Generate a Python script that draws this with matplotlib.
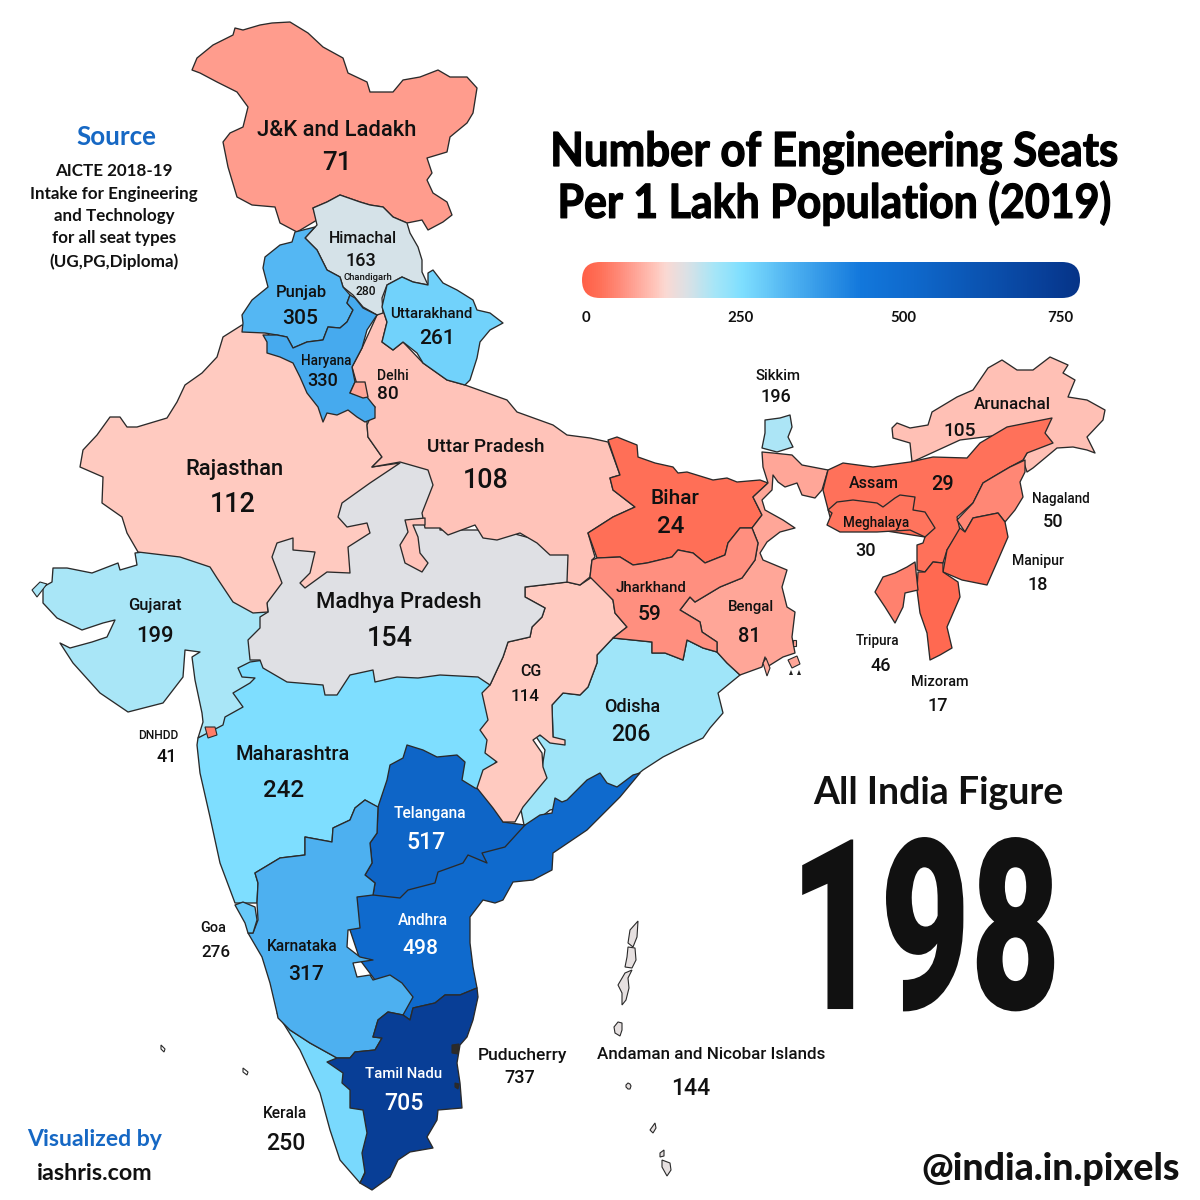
import numpy as np
import matplotlib
matplotlib.use('Agg')
import matplotlib.pyplot as plt
from matplotlib.colors import LinearSegmentedColormap, Normalize
from matplotlib.patches import Polygon, FancyBboxPatch
from matplotlib.patheffects import AbstractPathEffect
from matplotlib.transforms import Affine2D

LABEL_FONT = 'Roboto'
TITLE_FONT = 'Lato'
EDGE = '#2a2a2a'

# seats per lakh
NAMES = ['J&K and Ladakh', 'Himachal', 'Chandigarh', 'Punjab', 'Uttarakhand', 'Haryana', 'Delhi',
         'Rajasthan', 'Uttar Pradesh', 'Bihar', 'Gujarat', 'Madhya Pradesh', 'Jharkhand', 'Bengal',
         'CG', 'Odisha', 'Sikkim', 'Arunachal', 'Assam', 'Meghalaya', 'Nagaland', 'Manipur',
         'Tripura', 'Mizoram', 'DNHDD', 'Maharashtra', 'Telangana', 'Goa', 'Andhra', 'Karnataka',
         'Tamil Nadu', 'Puducherry', 'Kerala', 'Andaman and Nicobar Islands']
SEATS = [71, 163, 280, 305, 261, 330, 80,
         112, 108, 24, 199, 154, 59, 81,
         114, 206, 196, 105, 29, 30, 50, 18,
         46, 17, 41, 242, 517, 276, 498, 317,
         705, 737, 250, 144]
WHITE_VALUES = ['Telangana', 'Andhra', 'Tamil Nadu']

# (x, y, px size) of the name and of the number, same order as NAMES
NAME_POS = [(337, 128, 22), (363, 237, 16), (368, 276, 9.5), (301, 291, 16.5), (431, 313, 15), (326, 360, 13.5), (393, 374, 14),
            (234, 467, 22), (486, 445, 19), (675, 496, 21), (155, 604, 16.5), (399, 600, 22), (651, 586, 15), (751, 606, 15),
            (531, 670, 16), (632, 705, 18), (778, 375, 15), (1012, 403, 17), (874, 482, 16), (876, 522, 13.5), (1061, 497, 13.5), (1038, 560, 14),
            (878, 640, 13.5), (940, 680, 14.5), (158, 734, 12), (293, 753, 20), (430, 812, 15.5), (213, 927, 14.5), (423, 919, 15.5), (302, 945, 15.5),
            (404, 1073, 15), (522, 1054, 17.5), (285, 1112, 15.5), (711, 1053, 17)]
VALUE_POS = [(337, 160, 26), (361, 259, 18), (366, 290, 12), (300, 316, 21), (437, 336, 21), (323, 379, 18), (388, 392, 19),
             (233, 502, 27), (486, 478, 27), (671, 524, 24), (155, 634, 22), (390, 636, 27), (650, 612, 21), (749, 634, 20),
             (525, 695, 17), (631, 732, 23), (776, 395, 18), (960, 429, 19), (943, 482, 20), (866, 549, 18), (1053, 520, 18), (1038, 583, 18),
             (881, 664, 18), (938, 704, 18), (167, 755, 18), (284, 788, 24), (426, 840, 23), (216, 951, 17), (420, 946, 21), (306, 973, 21),
             (404, 1101, 23), (520, 1076, 18), (286, 1141, 23), (691, 1086, 23)]

# colour scale of the legend bar
SCALE_VALUES = [0, 25, 60, 110, 125, 155, 200, 240, 320, 420, 500, 700, 750]
SCALE_COLORS = ['#ff6048', '#ff7058', '#ff9080', '#ffc8be', '#fbd9d3', '#dde1e5', '#a5e6f8',
                '#7fdfff', '#4bafF0', '#1378dc', '#0f69cc', '#083f98', '#063488']
BAR_TICKS = [0, 250, 500, 750]
BAR_TICK_X = [586, 740, 903, 1060]

SOURCE_LINES = ['AICTE 2018-19', 'Intake for Engineering', 'and Technology', 'for all seat types', '(UG,PG,Diploma)']

# state outlines, in image pixels. later ones are drawn over earlier ones
OUTLINES = {
  'Gujarat': [(135,553),(137,565),(120,570),(118,563),(92,573),(67,568),(53,568),(52,582),(43,587),(43,603),(57,618),(82,630),(103,623),(115,620),(107,637),(92,642),(70,648),(60,643),(73,663),(100,693),(128,712),(163,703),(183,677),(185,650),(200,652),(192,657),(195,680),(202,713),(203,722),(198,738),(243,720),(270,700),(300,640),(268,612),(200,545)],
  'Maharashtra': [(198,738),(223,725),(225,717),(243,707),(233,693),(250,683),(255,678),(242,677),(238,668),(250,662),(300,655),(400,655),(495,680),(498,758),(480,790),(460,800),(400,800),(377,807),(365,800),(355,808),(350,820),(333,828),(332,842),(305,837),(305,855),(280,858),(255,873),(258,883),(257,903),(235,903),(220,863),(210,817),(200,773),(197,745)],
  'Kerala': [(277,1013),(300,1050),(320,1093),(330,1130),(340,1160),(360,1183),(375,1150),(370,1100),(345,1065),(337,1058),(310,1043),(290,1030)],
  'Odisha': [(613,638),(652,642),(652,653),(665,653),(683,660),(687,640),(703,648),(717,652),(727,663),(740,675),(718,693),(723,713),(710,728),(703,738),(683,747),(663,757),(643,770),(637,775),(600,800),(550,810),(525,830),(520,805),(540,780),(545,750),(535,735),(553,737),(552,705),(563,693),(580,695),(588,687),(597,663),(597,655)],
  'Andhra': [(640,773),(620,797),(587,830),(553,853),(552,870),(533,880),(513,882),(503,900),(495,903),(483,900),(470,917),(470,943),(473,967),(477,988),(460,995),(445,995),(435,1003),(413,1008),(410,1020),(403,1015),(390,1000),(360,960),(350,930),(355,897),(373,893),(400,880),(525,825),(540,815),(552,813),(555,798),(562,802),(567,800),(587,780),(600,773),(607,783),(617,787),(633,775)],
  'Telangana': [(407,745),(423,750),(437,757),(457,755),(465,762),(462,780),(475,788),(488,792),(503,822),(525,825),(505,847),(482,853),(487,863),(468,855),(463,863),(438,872),(435,883),(408,890),(400,898),(373,895),(375,883),(365,875),(372,863),(370,843),(377,833),(378,807),(387,780),(390,765),(403,758)],
  'CG': [(525,587),(567,582),(580,585),(592,577),(613,600),(615,613),(627,627),(613,638),(597,655),(597,663),(588,687),(580,695),(563,693),(552,705),(553,737),(565,740),(565,745),(550,743),(540,735),(533,740),(542,753),(543,767),(547,778),(537,790),(523,807),(515,822),(503,822),(493,808),(477,788),(483,770),(497,762),(485,753),(487,740),(480,730),(488,720),(482,693),(490,685),(503,657),(508,642),(530,637),(532,627),(542,617),(545,608),(525,597)],
  'Madhya Pradesh': [(268,612),(262,560),(280,530),(330,490),(395,450),(440,470),(440,530),(500,530),(575,550),(568,582),(525,587),(525,597),(545,608),(542,617),(532,627),(530,637),(508,642),(503,657),(490,685),(478,677),(440,675),(418,678),(397,677),(375,682),(373,670),(350,675),(337,695),(325,695),(323,685),(287,682),(263,668),(260,660),(250,660),(248,640),(260,628),(260,617)],
  'Rajasthan': [(242,325),(223,337),(217,357),(202,373),(185,385),(177,402),(167,418),(137,427),(127,427),(120,417),(110,417),(97,435),(83,450),(80,467),(103,477),(102,503),(122,517),(127,533),(138,552),(180,557),(210,567),(217,578),(223,587),(233,602),(253,613),(268,612),(267,603),(282,583),(272,557),(277,543),(293,538),(293,550),(315,552),(310,573),(300,583),(305,588),(327,572),(350,573),(348,547),(370,533),(367,523),(347,527),(338,517),(342,503),(370,483),(400,463),(372,467),(382,457),(368,437),(367,423),(360,353),(287,353),(267,333)],
  'Uttar Pradesh': [(382,307),(377,315),(362,348),(352,367),(360,395),(375,407),(367,425),(368,437),(382,457),(372,467),(400,462),(428,470),(433,485),(422,513),(425,528),(440,528),(448,535),(475,525),(483,538),(497,540),(520,533),(537,543),(550,555),(568,555),(567,582),(580,585),(590,577),(592,560),(595,557),(588,533),(613,517),(635,507),(613,490),(610,478),(620,475),(608,442),(590,438),(567,435),(553,425),(517,412),(507,400),(465,385),(447,380),(423,363),(403,342),(393,350),(382,342),(387,322)],
  'Bundelkhand': [(425,518),(405,520),(408,532),(400,545),(405,563),(422,572),(428,563),(420,553),(418,537),(413,525),(425,525)],
  'Bihar': [(608,440),(617,437),(637,445),(638,457),(655,463),(673,467),(678,473),(687,472),(713,480),(727,478),(737,482),(760,480),(768,483),(753,497),(762,515),(752,528),(740,528),(728,543),(725,555),(705,563),(693,553),(678,550),(672,557),(647,563),(633,565),(620,557),(597,558),(588,533),(613,517),(635,507),(613,490),(610,478),(620,475)],
  'Bengal': [(717,642),(717,652),(727,663),(740,675),(762,667),(765,657),(767,667),(783,657),(795,653),(792,637),(795,612),(787,607),(782,587),(787,570),(763,560),(760,553),(767,542),(780,532),(795,528),(783,520),(765,510),(762,500),(772,490),(773,475),(778,482),(785,487),(797,483),(802,495),(815,498),(822,490),(828,470),(802,465),(792,455),(773,453),(762,452),(763,467),(768,483),(753,497),(762,515),(752,528),(758,543),(755,560),(742,578),(720,587),(695,602),(690,597),(680,610),(700,622),(702,632)],
  'Jharkhand': [(592,560),(597,558),(620,557),(633,565),(647,563),(672,557),(678,550),(693,553),(705,563),(725,555),(728,543),(740,528),(752,528),(758,543),(755,560),(742,578),(720,587),(695,602),(690,597),(680,610),(700,622),(702,632),(717,642),(717,652),(703,648),(687,640),(683,660),(665,653),(652,653),(652,642),(613,638),(627,627),(615,613),(613,600),(590,577)],
  'Karnataka': [(255,873),(258,883),(257,903),(258,920),(253,933),(248,933),(262,957),(270,983),(277,1013),(278,1018),(290,1030),(310,1043),(337,1058),(350,1058),(355,1052),(375,1050),(382,1038),(373,1037),(378,1020),(388,1012),(403,1015),(413,997),(402,983),(390,975),(373,980),(370,975),(357,977),(353,963),(373,960),(360,957),(347,947),(348,930),(360,928),(357,897),(373,895),(375,883),(365,875),(372,863),(370,843),(377,833),(378,807),(365,800),(355,808),(350,820),(333,828),(332,842),(305,837),(305,855),(280,858)],
  'Goa': [(235,905),(243,902),(255,907),(257,920),(253,933),(248,933),(245,923)],
  'Tamil Nadu': [(477,988),(478,997),(473,1020),(467,1037),(460,1045),(457,1063),(460,1083),(462,1108),(438,1110),(437,1120),(427,1137),(433,1148),(410,1152),(398,1160),(390,1177),(372,1190),(360,1183),(365,1173),(362,1153),(367,1133),(363,1110),(350,1108),(350,1090),(342,1083),(343,1073),(327,1062),(337,1058),(350,1058),(355,1052),(375,1050),(382,1038),(373,1037),(378,1020),(388,1012),(403,1015),(410,1020),(413,1008),(435,1003),(445,995),(460,995)],
  'J&K and Ladakh': [(235,28),(243,30),(260,25),(272,23),(290,22),(308,33),(323,47),(343,58),(348,73),(367,82),(370,92),(393,92),(403,80),(420,77),(438,70),(450,77),(467,77),(477,88),(473,113),(467,123),(450,137),(447,152),(427,158),(432,173),(427,180),(433,193),(447,202),(452,215),(443,222),(428,230),(422,220),(407,223),(393,217),(383,207),(370,205),(360,202),(340,195),(327,202),(313,208),(317,220),(297,232),(280,223),(275,207),(252,205),(237,197),(228,167),(223,142),(230,133),(243,127),(248,107),(237,92),(217,82),(200,73),(192,70),(197,58),(213,45),(233,35)],
  'Himachal': [(313,208),(327,202),(340,195),(360,202),(370,205),(383,207),(393,217),(407,223),(410,233),(418,247),(422,260),(422,272),(428,285),(413,282),(402,277),(387,285),(382,298),(383,313),(377,315),(363,307),(353,295),(343,287),(340,277),(327,270),(317,250),(305,238),(317,225)],
  'Punjab': [(315,227),(305,238),(317,250),(327,270),(340,277),(343,287),(350,295),(347,303),(353,310),(347,322),(340,328),(328,327),(323,340),(307,342),(293,348),(287,337),(277,335),(265,333),(242,332),(243,323),(242,315),(252,300),(268,287),(263,268),(265,257),(280,245),(292,242),(295,232)],
  'Haryana': [(350,295),(355,298),(363,308),(377,315),(367,330),(362,348),(352,367),(355,382),(350,393),(367,397),(375,407),(375,418),(365,422),(357,417),(348,410),(337,415),(327,413),(323,422),(318,407),(307,393),(300,377),(293,363),(280,357),(267,353),(267,342),(263,335),(277,335),(287,337),(293,348),(307,342),(323,340),(328,327),(340,328),(347,322),(353,310),(347,303)],
  'Delhi': [(355,382),(365,382),(368,397),(363,398),(350,393)],
  'Uttarakhand': [(387,285),(402,277),(413,282),(428,285),(428,273),(433,270),(443,283),(457,290),(473,300),(477,310),(490,313),(503,323),(490,330),(480,342),(477,358),(470,380),(465,385),(447,380),(423,363),(417,353),(403,342),(393,350),(382,342),(387,322),(382,307)],
  'Arunachal': [(892,428),(897,423),(910,428),(928,425),(932,412),(957,397),(973,390),(988,368),(1002,360),(1017,370),(1033,370),(1050,357),(1068,365),(1063,373),(1075,380),(1068,397),(1087,400),(1105,410),(1103,420),(1087,437),(1095,453),(1087,450),(1073,447),(1057,448),(1033,468),(1027,472),(1023,460),(1027,453),(1040,430),(960,440),(912,462),(910,443),(893,438)],
  'Assam': [(828,470),(843,463),(873,467),(910,462),(933,457),(967,458),(980,443),(1007,427),(1052,418),(1045,433),(1053,443),(1027,453),(1023,460),(1010,467),(993,477),(983,483),(973,503),(957,517),(960,530),(947,550),(943,563),(933,562),(925,572),(917,570),(917,545),(923,543),(925,537),(880,530),(860,510),(830,517),(823,490)],
  'Meghalaya': [(827,525),(832,513),(828,510),(837,502),(853,500),(877,503),(883,507),(895,498),(900,495),(915,497),(913,510),(925,512),(935,528),(925,537),(910,530),(877,532),(840,532)],
  'Nagaland': [(1025,460),(1025,472),(1020,482),(1023,497),(1015,510),(1005,522),(998,513),(973,518),(965,532),(957,520),(973,503),(983,483),(993,477),(1010,467)],
  'Manipur': [(973,518),(998,513),(1005,522),(1008,537),(998,560),(987,585),(962,580),(943,572),(947,550),(960,528),(965,532)],
  'Mizoram': [(918,572),(925,572),(933,562),(943,563),(943,572),(958,582),(960,597),(947,627),(952,648),(940,655),(930,660),(927,633),(920,613),(917,590)],
  'Tripura': [(915,562),(918,590),(905,593),(903,607),(895,623),(885,607),(875,592),(883,577),(895,573),(907,567)],
  'Sikkim': [(765,420),(780,418),(790,415),(792,427),(788,437),(793,447),(777,452),(762,448),(765,433)],
}
# these pieces take the colour of another entry
PIECE_OF = {'Bundelkhand': 'Uttar Pradesh'}

ISLANDS = {
  'Andaman and Nicobar Islands': [
    [(638,921),(637,937),(633,947),(628,943),(630,930)],
    [(628,947),(635,948),(636,960),(632,968),(625,967),(627,957)],
    [(625,973),(632,970),(628,978),(629,988),(626,1000),(622,1005),(622,993),(618,985)],
    [(618,1022),(622,1023),(622,1030),(620,1036),(615,1033),(614,1027)],
    [(628,1083),(630,1084),(631,1086),(630,1089),(628,1089),(626,1087),(626,1085)],
    [(650,1130),(655,1123),(656,1128),(653,1133)],
    [(660,1153),(664,1150),(664,1156),(660,1157)],
    [(662,1160),(670,1163),(671,1170),(667,1176),(662,1167)],
  ],
  'DNHDD': [[(205,727),(215,727),(217,735),(208,738)]],
  'Puducherry': [[(452,1045),(459,1044),(458,1054),(452,1053)], [(455,1083),(459,1084),(458,1089),(455,1087)]],
  'Gujarat': [[(32,590),(40,582),(47,584),(37,597)]],
  'Bengal': [[(763,663),(766,658),(770,668),(767,676)], [(788,660),(797,656),(800,664),(792,668)], [(793,640),(796,640),(796,646),(793,646)]],
}
LAKSHADWEEP = [[(161,1045),(165,1049),(164,1052),(161,1049)], [(243,1068),(248,1072),(247,1075),(243,1072)]]
SUNDARBAN_ROCKS = [[(789,675),(791,670),(793,675)], [(797,675),(799,670),(801,675)]]


class Stretch(AbstractPathEffect):
  # reshapes real text around a point, no condensed heavy font is installed
  def __init__(self, x_scale, y_scale, center, stroke=0):
    super().__init__()
    self.x_scale = x_scale
    self.y_scale = y_scale
    self.center = center
    self.stroke = stroke

  def draw_path(self, renderer, gc, tpath, affine, rgbFace=None):
    cx, cy = self.center
    move = Affine2D().translate(-cx, -cy).scale(self.x_scale, self.y_scale).translate(cx, cy)
    gc0 = renderer.new_gc()
    gc0.copy_properties(gc)
    if self.stroke:
      gc0.set_linewidth(self.stroke)
      gc0.set_foreground(rgbFace)
    renderer.draw_path(gc0, tpath, affine + move, rgbFace)
    gc0.restore()


def px(size):
  return size * 0.72


cmap = LinearSegmentedColormap.from_list('seats', [(v / 750, c) for v, c in zip(SCALE_VALUES, SCALE_COLORS)])
norm = Normalize(0, 750)
seats_by_name = dict(zip(NAMES, SEATS))

fig = plt.figure(figsize=(12, 12), dpi=100, facecolor='white')
ax = fig.add_axes([0, 0, 1, 1])
ax.set_xlim(0, 1200)
ax.set_ylim(1200, 0)
ax.axis('off')


def display_point(x, y):
  return tuple(ax.transData.transform((x, y)))


for name, points in OUTLINES.items():
  color = cmap(norm(seats_by_name[PIECE_OF.get(name, name)]))
  ax.add_patch(Polygon(points, closed=True, facecolor=color, edgecolor=EDGE, linewidth=0.95, joinstyle='round'))

for name, pieces in ISLANDS.items():
  for points in pieces:
    color = cmap(norm(seats_by_name[name]))
    if name == 'Andaman and Nicobar Islands':
      color = '#e6e0e0'
    if name == 'Puducherry':
      color = '#2b2b2b'
    ax.add_patch(Polygon(points, closed=True, facecolor=color, edgecolor=EDGE, linewidth=0.8))

for points in LAKSHADWEEP:
  ax.add_patch(Polygon(points, closed=True, facecolor='white', edgecolor=EDGE, linewidth=0.8))
for points in SUNDARBAN_ROCKS:
  ax.add_patch(Polygon(points, closed=True, facecolor='#222222', edgecolor='none'))

for i, name in enumerate(NAMES):
  color = 'white' if name in WHITE_VALUES else '#111111'
  nx, ny, ns = NAME_POS[i]
  vx, vy, vs = VALUE_POS[i]
  ax.text(nx, ny, name, ha='center', va='center_baseline', fontsize=px(ns), family=LABEL_FONT, color=color, weight='medium')
  ax.text(vx, vy, str(SEATS[i]), ha='center', va='center_baseline', fontsize=px(vs), family=LABEL_FONT, color=color, weight='medium')

# legend bar
gradient = np.linspace(0, 1, 500).reshape(1, -1)
bar = ax.imshow(gradient, cmap=cmap, extent=(582, 1080, 298, 262), aspect='auto', zorder=3)
bar.set_clip_path(FancyBboxPatch((582, 262), 498, 36, boxstyle='round,pad=0,rounding_size=18', transform=ax.transData))
ax.set_xlim(0, 1200)
ax.set_ylim(1200, 0)
for value, x in zip(BAR_TICKS, BAR_TICK_X):
  ax.text(x, 316, str(value), ha='center', va='center_baseline', fontsize=px(15), family=TITLE_FONT, weight='bold', color='#111111')

# title
title_center = display_point(834, 148)
ax.text(834, 148, 'Number of Engineering Seats', ha='center', va='center_baseline', fontsize=px(47), family=TITLE_FONT, weight='bold', color='black',
        path_effects=[Stretch(0.931, 1, title_center, stroke=0.9)])
title_center = display_point(834, 199)
ax.text(834, 199, 'Per 1 Lakh Population (2019)', ha='center', va='center_baseline', fontsize=px(47), family=TITLE_FONT, weight='bold', color='black',
        path_effects=[Stretch(0.912, 1, title_center, stroke=0.9)])

# source block
ax.text(116, 135, 'Source', ha='center', va='center_baseline', fontsize=px(26), family=TITLE_FONT, weight='bold', color='#1668c4')
for line, y in zip(SOURCE_LINES, [169, 192, 214, 237, 260]):
  ax.text(114, y, line, ha='center', va='center_baseline', fontsize=px(17), family=TITLE_FONT, weight='bold', color='#111111')

ax.text(95, 1138, 'Visualized by', ha='center', va='center_baseline', fontsize=px(23), family=TITLE_FONT, weight='bold', color='#1668c4')
ax.text(95, 1171, 'iashris.com', ha='center', va='center_baseline', fontsize=px(23.4), family=TITLE_FONT, weight='bold', color='#111111')
ax.text(1180, 1166, '@india.in.pixels', ha='right', va='center_baseline', fontsize=px(37.5), family=TITLE_FONT, weight='black', color='#111111')
ax.text(938, 790, 'All India Figure', ha='center', va='center_baseline', fontsize=px(37.5), family=TITLE_FONT, weight='bold', color='#111111')

# big number, small font stretched tall so that its box stays the size of what is drawn
big_center = display_point(925, 920)
ax.text(925, 920, '198', ha='center', va='center_baseline', fontsize=px(150), family=LABEL_FONT, weight='black', color='#111111',
        path_effects=[Stretch(1.04, 1.59, big_center)])

fig.savefig('out.png', dpi=100, facecolor='white')
